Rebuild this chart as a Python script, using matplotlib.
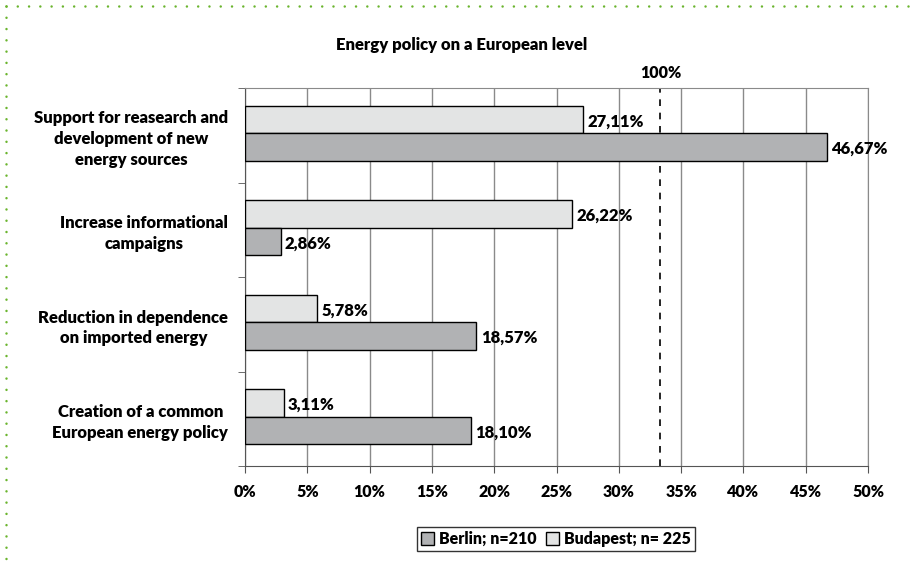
import matplotlib.pyplot as plt
from matplotlib.lines import Line2D
from matplotlib.patches import Patch
from matplotlib.ticker import FixedLocator, PercentFormatter
import numpy as np

plt.rcParams['font.family'] = ['Lato', 'DejaVu Sans']
plt.rcParams['font.weight'] = 'heavy'

# data, top to bottom
categories = ['Support for reasearch and\ndevelopment of new\nenergy sources',
              'Increase informational\ncampaigns',
              'Reduction in dependence\non imported energy',
              'Creation of a common\nEuropean energy policy']
budapest = [27.11, 26.22, 5.78, 3.11]
berlin = [46.67, 2.86, 18.57, 18.10]
ref_line = 100 / 3  # the "100%" mark
x_ticks = [0, 5, 10, 15, 20, 25, 30, 35, 40, 45, 50]

fig = plt.figure(figsize=(9.12, 5.65), dpi=100)
ax = fig.add_axes([245 / 912, 1 - 466 / 565, 623 / 912, 378 / 565])

y = np.arange(len(categories))
h = 0.29
light = '#e3e4e4'
dark = '#b1b2b4'

ax.barh(y - h / 2 - 0.02, budapest, height=h, color=light, edgecolor='black', linewidth=1, zorder=3)
ax.barh(y + h / 2 - 0.02, berlin, height=h, color=dark, edgecolor='black', linewidth=1, zorder=3)

def fmt(v):
    return f'{v:.2f}'.replace('.', ',') + '%'

for yi, v in zip(y, budapest):
    ax.text(v + 0.35, yi - h / 2, fmt(v), va='center', ha='left', fontsize=12, zorder=4)
for yi, v in zip(y, berlin):
    ax.text(v + 0.35, yi + h / 2, fmt(v), va='center', ha='left', fontsize=12, zorder=4)

ax.axvline(ref_line, color='black', linestyle=(0, (4, 4)), linewidth=1.2, zorder=2)
ax.annotate('100%', xy=(ref_line, 1.0), xycoords=('data', 'axes fraction'),
            xytext=(0, 5), textcoords='offset points', ha='center', va='bottom', fontsize=11.5)

ax.set_xlim(0, 50)
ax.set_ylim(len(categories) - 0.5, -0.5)
ax.set_xticks(x_ticks)
ax.xaxis.set_major_formatter(PercentFormatter(decimals=0))
ax.set_yticks(y)
ax.set_yticklabels(categories, multialignment='center', fontsize=12, linespacing=1.35)
ax.yaxis.set_minor_locator(FixedLocator(np.arange(-0.5, len(categories), 1.0)))
ax.tick_params(axis='y', which='major', length=0, pad=12)
ax.tick_params(axis='y', which='minor', length=5, color='#555555')
ax.tick_params(axis='x', length=5, color='#555555', labelsize=11.5, pad=8)

ax.grid(axis='x', color='#8a8a8a', linewidth=1, zorder=0)
ax.set_axisbelow(True)
for s in ['top', 'right']:
    ax.spines[s].set_color('#8a8a8a')
for s in ['left', 'bottom']:
    ax.spines[s].set_color('#555555')

fig.text(462 / 912, 1 - 45 / 565, 'Energy policy on a European level', ha='center', va='center', fontsize=12)

handles = [Patch(facecolor=dark, edgecolor='black', label='Berlin; n=210'),
           Patch(facecolor=light, edgecolor='black', label='Budapest; n= 225')]
fig.legend(handles=handles, loc='center', bbox_to_anchor=(556 / 912, 1 - 539 / 565), ncol=2,
           frameon=True, fancybox=False, edgecolor='black', fontsize=11.5,
           handlelength=0.8, handleheight=0.8, handletextpad=0.3, columnspacing=0.6,
           borderpad=0.25, borderaxespad=0)

# green dotted border top and left
green = '#6ab42d'
dots = (0, (0.01, 4.5))
fig.add_artist(Line2D([6 / 912, 1.0], [1 - 6 / 565, 1 - 6 / 565], transform=fig.transFigure,
                      color=green, linestyle=dots, linewidth=1.8, dash_capstyle='round'))
fig.add_artist(Line2D([6 / 912, 6 / 912], [1 - 6 / 565, 0.0], transform=fig.transFigure,
                      color=green, linestyle=dots, linewidth=1.8, dash_capstyle='round'))

fig.savefig('out.png', dpi=100)
